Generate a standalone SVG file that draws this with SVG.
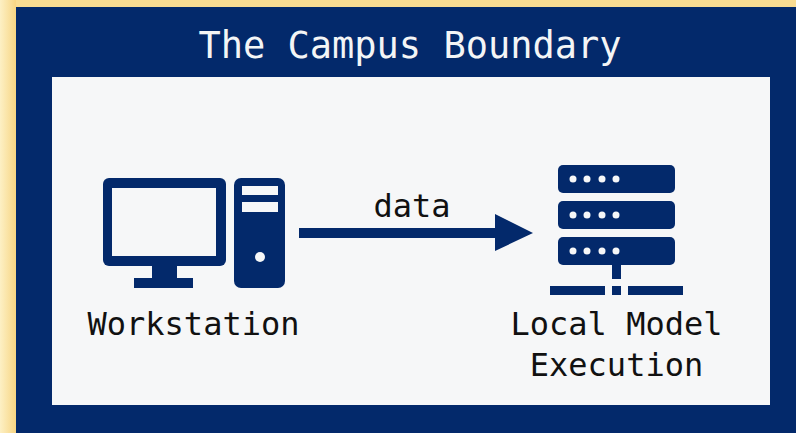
<svg xmlns="http://www.w3.org/2000/svg" width="796" height="433" viewBox="0 0 796 433">
<defs>
<linearGradient id="edge" x1="0" y1="0" x2="1" y2="0"><stop offset="0" stop-color="#fdf0c4"/><stop offset="1" stop-color="#f7d583"/></linearGradient>
<style>
.navy{fill:#03296b}
.paper{fill:#f6f7f8}
.dot{fill:#f6f7f8}
text{font-family:"DejaVu Sans Mono","Liberation Mono",monospace;text-anchor:middle;fill:#111}
.lbl{font-size:32px}
</style>
</defs>
<g id="frame">
<rect width="796" height="433" fill="#f9dc92"/>
<rect width="16" height="433" fill="url(#edge)"/>
<rect class="navy" x="16" y="7" width="780" height="426"/>
<rect class="paper" x="52" y="77" width="718" height="328"/>
<text x="410" y="58" font-size="37" style="fill:#f4f5f6">The Campus Boundary</text>
</g>
<g id="workstation">
<rect class="navy" x="103" y="178" width="123" height="88" rx="6"/>
<rect class="paper" x="112" y="188" width="104" height="68"/>
<rect class="navy" x="152" y="265" width="25" height="15"/>
<rect class="navy" x="134" y="278" width="59" height="10"/>
<rect class="navy" x="234" y="178" width="51" height="110" rx="7"/>
<rect class="paper" x="242" y="186" width="36" height="9"/>
<rect class="paper" x="242" y="202" width="36" height="10"/>
<circle class="paper" cx="260" cy="257" r="5"/>
<text class="lbl" x="193.500" y="335">Workstation</text>
</g>
<g id="connectors">
<path class="navy" d="M299 228H495V214L533 233L495 251V238H299Z"/>
<text class="lbl" x="412" y="217">data</text>
</g>
<g id="server">
<rect class="navy" x="558" y="165" width="117" height="28" rx="5"/>
<rect class="navy" x="558" y="201" width="117" height="28" rx="5"/>
<rect class="navy" x="558" y="237" width="117" height="28" rx="5"/>
<g class="dot">
<circle cx="573" cy="179" r="3.500"/><circle cx="587" cy="179" r="3.500"/><circle cx="602" cy="179" r="3.500"/><circle cx="616" cy="179" r="3.500"/>
<circle cx="573" cy="215" r="3.500"/><circle cx="587" cy="215" r="3.500"/><circle cx="602" cy="215" r="3.500"/><circle cx="616" cy="215" r="3.500"/>
<circle cx="573" cy="251" r="3.500"/><circle cx="587" cy="251" r="3.500"/><circle cx="602" cy="251" r="3.500"/><circle cx="616" cy="251" r="3.500"/>
</g>
<rect class="navy" x="612" y="264" width="9" height="15"/>
<rect class="navy" x="550" y="286" width="55" height="9"/>
<rect class="navy" x="612" y="286" width="9" height="9"/>
<rect class="navy" x="628" y="286" width="55" height="9"/>
<text class="lbl" x="616.500" y="335">Local Model</text>
<text class="lbl" x="616.500" y="376">Execution</text>
</g>
</svg>
